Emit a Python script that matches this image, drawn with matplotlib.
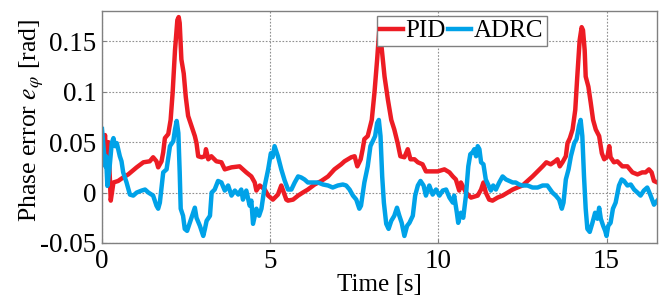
import matplotlib
matplotlib.use("Agg")
import matplotlib.pyplot as plt

# PID phase error
t_pid = [0.05, 0.09, 0.14, 0.19, 0.26, 0.34, 0.48, 0.63, 0.78, 1.03, 1.23, 1.42, 1.52, 1.62,
         1.67, 1.77, 1.82, 1.87, 1.97, 2.04, 2.10, 2.17, 2.24, 2.28, 2.31, 2.36, 2.43, 2.49,
         2.56, 2.66, 2.76, 2.81, 2.86, 2.96, 3.06, 3.09, 3.16, 3.25, 3.40, 3.55, 3.65, 3.85,
         4.09, 4.19, 4.29, 4.44, 4.54, 4.59, 4.69, 4.84, 4.94, 5.08, 5.23, 5.33, 5.48,
         5.53, 5.68, 5.83, 5.97, 6.12, 6.32, 6.52, 6.72, 6.91, 7.11, 7.21, 7.31, 7.41, 7.51,
         7.59, 7.69, 7.75, 7.80, 7.90, 8.02, 8.10, 8.18, 8.24, 8.28, 8.30, 8.40, 8.50, 8.60,
         8.69, 8.79, 8.87, 8.99, 9.09, 9.17, 9.29, 9.39, 9.53, 9.63, 9.78, 9.98, 10.18,
         10.33, 10.43, 10.52, 10.62, 10.67, 10.82, 10.97, 11.17, 11.27, 11.34, 11.41,
         11.51, 11.61, 11.76, 11.91, 12.06, 12.21, 12.35, 12.50, 12.65, 12.80, 12.95,
         13.10, 13.21, 13.34, 13.47, 13.54, 13.61, 13.69, 13.79, 13.84, 13.91, 13.99,
         14.07, 14.13, 14.20, 14.26, 14.30, 14.35, 14.38, 14.46, 14.53, 14.60, 14.68,
         14.78, 14.86, 14.93, 15.03, 15.08, 15.12, 15.22, 15.32, 15.47, 15.62, 15.77,
         15.92, 16.06, 16.16, 16.26, 16.34, 16.41, 16.51]
e_pid = [0.045, 0.057, 0.028, 0.050, -0.008, 0.010, 0.0115, 0.015, 0.018, 0.025, 0.030, 0.031,
         0.035, 0.031, 0.025, 0.031, 0.040, 0.054, 0.058, 0.072, 0.099, 0.141, 0.171, 0.174,
         0.168, 0.132, 0.118, 0.095, 0.076, 0.066, 0.056, 0.049, 0.036, 0.035, 0.036, 0.043,
         0.033, 0.036, 0.031, 0.030, 0.023, 0.025, 0.026, 0.023, 0.020, 0.016, 0.010, 0.002,
         0.007, 0.003, -0.003, -0.007, -0.002, 0.007, -0.007,
         -0.008, -0.007, -0.003, 0.0, 0.003, 0.008, 0.0115, 0.016, 0.023, 0.028, 0.031, 0.033,
         0.035, 0.036, 0.026, 0.033, 0.043, 0.053, 0.056, 0.072, 0.099, 0.132, 0.160, 0.166,
         0.148, 0.115, 0.092, 0.072, 0.0625, 0.049, 0.036, 0.035, 0.043, 0.033, 0.033, 0.030,
         0.028, 0.021, 0.021, 0.021, 0.023, 0.020, 0.016, 0.013, 0.002, 0.010, 0.0, -0.005,
         -0.003, 0.003, 0.010, 0.0, -0.007, -0.008, -0.005, -0.003, 0.0, 0.003, 0.005, 0.007,
         0.0115, 0.016, 0.021, 0.026, 0.030, 0.028, 0.031, 0.033, 0.026, 0.030, 0.036, 0.049,
         0.054, 0.0625, 0.082, 0.115, 0.151, 0.164, 0.161, 0.141, 0.115, 0.105, 0.089, 0.072,
         0.0625, 0.056, 0.039, 0.033, 0.036, 0.046, 0.035, 0.030, 0.031, 0.026, 0.026, 0.020,
         0.018, 0.020, 0.020, 0.023, 0.020, 0.0115, 0.010]

# ADRC phase error
t_adrc = [0.0, 0.05, 0.10, 0.12, 0.16, 0.22, 0.29, 0.34, 0.39, 0.44, 0.48, 0.53, 0.58, 0.63,
          0.73, 0.83, 0.93, 1.03, 1.18, 1.28, 1.38, 1.52, 1.62, 1.67, 1.72, 1.82, 1.92, 2.02,
          2.12, 2.17, 2.22, 2.27, 2.31, 2.34, 2.41, 2.46, 2.53, 2.61, 2.71, 2.76, 2.81, 2.91,
          3.01, 3.06, 3.11, 3.21, 3.26, 3.35, 3.45, 3.55, 3.65, 3.75, 3.85, 3.95, 4.05, 4.14,
          4.19, 4.29, 4.39, 4.44, 4.49, 4.59, 4.67, 4.74, 4.84, 4.94, 5.02, 5.07, 5.13, 5.23,
          5.33, 5.43, 5.53, 5.63, 5.73, 5.83, 5.92, 6.02, 6.12, 6.27, 6.42, 6.57, 6.72, 6.86,
          7.01, 7.16, 7.26, 7.36, 7.46, 7.56, 7.65, 7.70, 7.80, 7.90, 7.98, 8.05, 8.12, 8.18,
          8.23, 8.28, 8.33, 8.38, 8.45, 8.52, 8.60, 8.69, 8.77, 8.84, 8.91, 8.99, 9.07, 9.14,
          9.24, 9.31, 9.39, 9.47, 9.56, 9.63, 9.73, 9.83, 9.93, 10.03, 10.13, 10.23, 10.33,
          10.43, 10.47, 10.55, 10.59, 10.67, 10.74, 10.82, 10.89, 10.95, 11.02, 11.07, 11.12,
          11.17, 11.22, 11.27, 11.34, 11.41, 11.49, 11.56, 11.63, 11.71, 11.81, 11.91, 12.01,
          12.11, 12.21, 12.30, 12.40, 12.50, 12.65, 12.80, 12.95, 13.10, 13.24, 13.39, 13.49,
          13.59, 13.67, 13.72, 13.79, 13.87, 13.94, 14.04, 14.11, 14.18, 14.23, 14.28, 14.33,
          14.38, 14.43, 14.50, 14.58, 14.66, 14.73, 14.78, 14.83, 14.90, 14.96, 15.00, 15.05,
          15.12, 15.19, 15.27, 15.37, 15.45, 15.52, 15.62, 15.72, 15.82, 15.92, 16.01, 16.11,
          16.21, 16.31, 16.41, 16.51]
e_adrc = [0.063, 0.043, 0.026, 0.036, 0.0066, 0.023, 0.049, 0.054, 0.046, 0.049, 0.043, 0.036,
          0.031, 0.020, 0.010, -0.002, -0.003, 0.0, 0.002, 0.003, 0.0, -0.003, -0.013, -0.016,
          -0.010, 0.020, 0.023, 0.046, 0.051, 0.0625, 0.071, 0.059, 0.020, -0.016, -0.023,
          -0.036, -0.038, -0.030, -0.020, -0.015, -0.025, -0.033, -0.043, -0.036, -0.028,
          -0.023, 0.0, 0.003, 0.0115, 0.010, 0.002, 0.007, -0.003, 0.002, -0.002, 0.003,
          -0.007, 0.002, -0.013, -0.008, -0.031, -0.016, -0.023, -0.016, 0.007, 0.023, 0.039,
          0.035, 0.046, 0.036, 0.023, 0.012, 0.003, 0.003, 0.010, 0.016, 0.015, 0.013, 0.010,
          0.010, 0.010, 0.008, 0.007, 0.005, 0.007, 0.008, 0.007, 0.003, -0.003, -0.007,
          -0.016, -0.013, 0.010, 0.026, 0.046, 0.051, 0.056, 0.069, 0.072, 0.056, 0.016,
          -0.010, -0.031, -0.036, -0.028, -0.023, -0.015, -0.023, -0.030, -0.043, -0.033,
          -0.030, -0.023, -0.003, 0.007, 0.0115, 0.007, -0.003, 0.007, -0.002, 0.003, -0.003,
          0.002, 0.003, -0.005, -0.010, -0.003, -0.020, -0.030, -0.020, -0.025, -0.003, 0.026,
          0.038, 0.040, 0.043, 0.036, 0.046, 0.043, 0.030, 0.028, 0.013, 0.007, 0.002, 0.007,
          0.003, 0.010, 0.016, 0.013, 0.0115, 0.010, 0.010, 0.008, 0.007, 0.007, 0.005, 0.005,
          0.007, 0.007, 0.0, -0.003, -0.007, -0.016, -0.010, 0.013, 0.023, 0.036, 0.049, 0.053,
          0.066, 0.072, 0.056, 0.016, -0.016, -0.036, -0.039, -0.030, -0.020, -0.026, -0.015,
          -0.026, -0.033, -0.038, -0.043, -0.033, -0.030, -0.016, -0.010, 0.007, 0.013, 0.0115,
          0.007, 0.008, 0.003, 0.0, -0.003, 0.002, 0.005, -0.003, -0.012, -0.008]

xticks = [0, 5, 10, 15]
yticks = [-0.05, 0, 0.05, 0.1, 0.15]
ytick_labels = ["-0.05", "0", "0.05", "0.1", "0.15"]

plt.rcParams["font.family"] = ["Liberation Serif", "DejaVu Serif"]
plt.rcParams["mathtext.fontset"] = "stix"
plt.rcParams["font.size"] = 18

fig = plt.figure(figsize=(6.66, 2.96), dpi=100)
ax = fig.add_axes([102 / 666, 53 / 296, 555 / 666, 232 / 296])

ax.plot(t_pid, e_pid, color="#ED1C24", lw=3.2, label="PID")
ax.plot(t_adrc, e_adrc, color="#00A2E8", lw=3.2, label="ADRC")

ax.set_xlim(0, 16.5)
ax.set_ylim(-0.05, 0.18)
ax.set_xticks(xticks)
ax.set_xticklabels([str(x) for x in xticks])
ax.set_yticks(yticks)
ax.set_yticklabels(ytick_labels)
ax.tick_params(direction="in", length=3, color="#808080", pad=4, labelsize=19.5)
ax.grid(True, linestyle=(0, (1.5, 1.5)), color="#909090", lw=0.8)
for s in ax.spines.values():
    s.set_color("#808080")
    s.set_linewidth(1)

ax.set_xlabel("Time [s]", labelpad=0)
ax.set_ylabel(r"Phase error $e_\varphi$ [rad]", fontsize=18.5)
ax.yaxis.set_label_coords(-0.101, 0.53)

leg = ax.legend(loc="upper left", bbox_to_anchor=(0.495, 0.978), ncol=2, fancybox=False,
                edgecolor="#808080", framealpha=1, handlelength=0.9, handletextpad=0.1,
                columnspacing=0.1, borderpad=0.15, borderaxespad=0)
leg.get_frame().set_linewidth(1)

fig.savefig("out.png", dpi=100)
